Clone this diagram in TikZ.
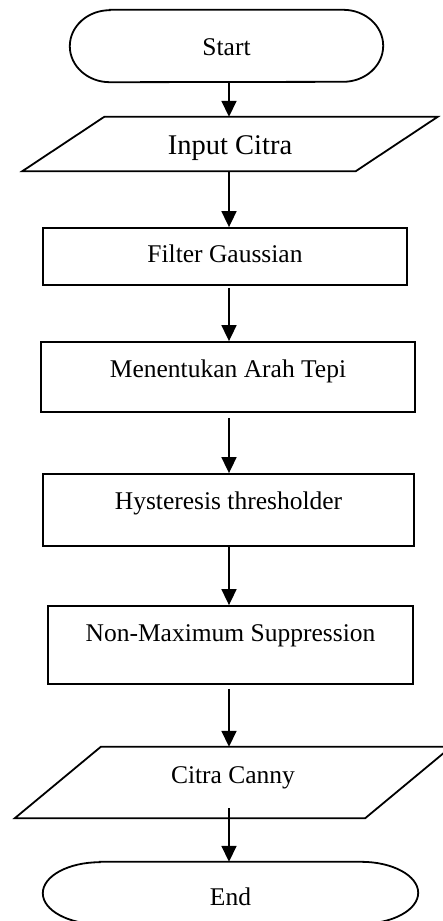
\documentclass[tikz,border=0pt]{standalone}
\usepackage{fontspec}
\setmainfont{Liberation Serif}
\usetikzlibrary{arrows.meta}
\tikzset{
  outline/.style={line width=1.8pt, draw=black},
  flow/.style={-{Triangle[width=15pt,length=16pt]}, line width=1.7pt},
  boxtext/.style={inner sep=0pt, align=center, font=\fontsize{25.5}{30}\selectfont},
  bigtext/.style={boxtext, font=\fontsize{28.5}{33}\selectfont},
  procbox/.style={boxtext, rectangle, draw, line width=1.8pt}
}
\newcommand{\DrawTerm}[3]{% node, x radius, y radius
  \draw[outline] ([xshift=#2]#1.north west) -- ([xshift=-#2]#1.north east)
    arc[start angle=90, end angle=-90, x radius=#2, y radius=#3]
    -- ([xshift=#2]#1.south west)
    arc[start angle=270, end angle=90, x radius=#2, y radius=#3] -- cycle;
}
\newcommand{\DrawData}[2]{% node, half slant
  \draw[outline] ([xshift=#2]#1.north west) -- ([xshift=#2]#1.north east)
    -- ([xshift=-#2]#1.south east) -- ([xshift=-#2]#1.south west) -- cycle;
}

\begin{document}
\begin{tikzpicture}[x=1pt, y=1pt]
  \useasboundingbox (0,0) rectangle (443,-921);
  \coordinate (axis) at (229,0);
  % text sits high in each box: text height above, text depth below
  \node[boxtext, minimum width=313pt, text height=45pt, text depth=27pt] (start) at (226.5,-46) {Start};
  \node[bigtext, minimum width=333pt, text height=37pt, text depth=17pt] (inp) at (230,-144) {Input Citra};
  \node[procbox, minimum width=364pt, text height=34pt, text depth=23pt] (filt) at (225,-256.5) {Filter Gaussian};
  \node[procbox, minimum width=374pt, text height=35pt, text depth=35pt] (arah) at (228,-377) {Menentukan Arah Tepi};
  \node[procbox, minimum width=371pt, text height=35pt, text depth=37pt] (hyst) at (228.5,-510) {Hysteresis thresholder};
  \node[procbox, minimum width=365pt, text height=35pt, text depth=43pt] (nms) at (230.5,-645) {Non-Maximum Suppression};
  \node[boxtext, minimum width=350pt, text height=36pt, text depth=35pt] (canny) at (233,-782.5) {Citra Canny};
  \node[boxtext, minimum width=375pt, text height=43pt, text depth=19pt] (end) at (230.5,-893) {End};
  \DrawTerm{start}{40pt}{36pt}
  \DrawData{inp}{41pt}
  \DrawData{canny}{43pt}
  \DrawTerm{end}{57pt}{31pt}
  % connectors
  \draw[flow] (start.south -| axis) -- (inp.north -| axis);
  \draw[flow] (inp.south -| axis) -- (filt.north -| axis);
  \draw[flow, shorten <=2pt] (filt.south -| axis) -- (arah.north -| axis);
  \draw[flow, shorten <=5pt] (arah.south -| axis) -- (hyst.north -| axis);
  \draw[flow] (hyst.south -| axis) -- (nms.north -| axis);
  \draw[flow, shorten <=4pt] (nms.south -| axis) -- (canny.north -| axis);
  \draw[flow, shorten <=-10pt] (canny.south -| axis) -- (end.north -| axis);
\end{tikzpicture}
\end{document}
